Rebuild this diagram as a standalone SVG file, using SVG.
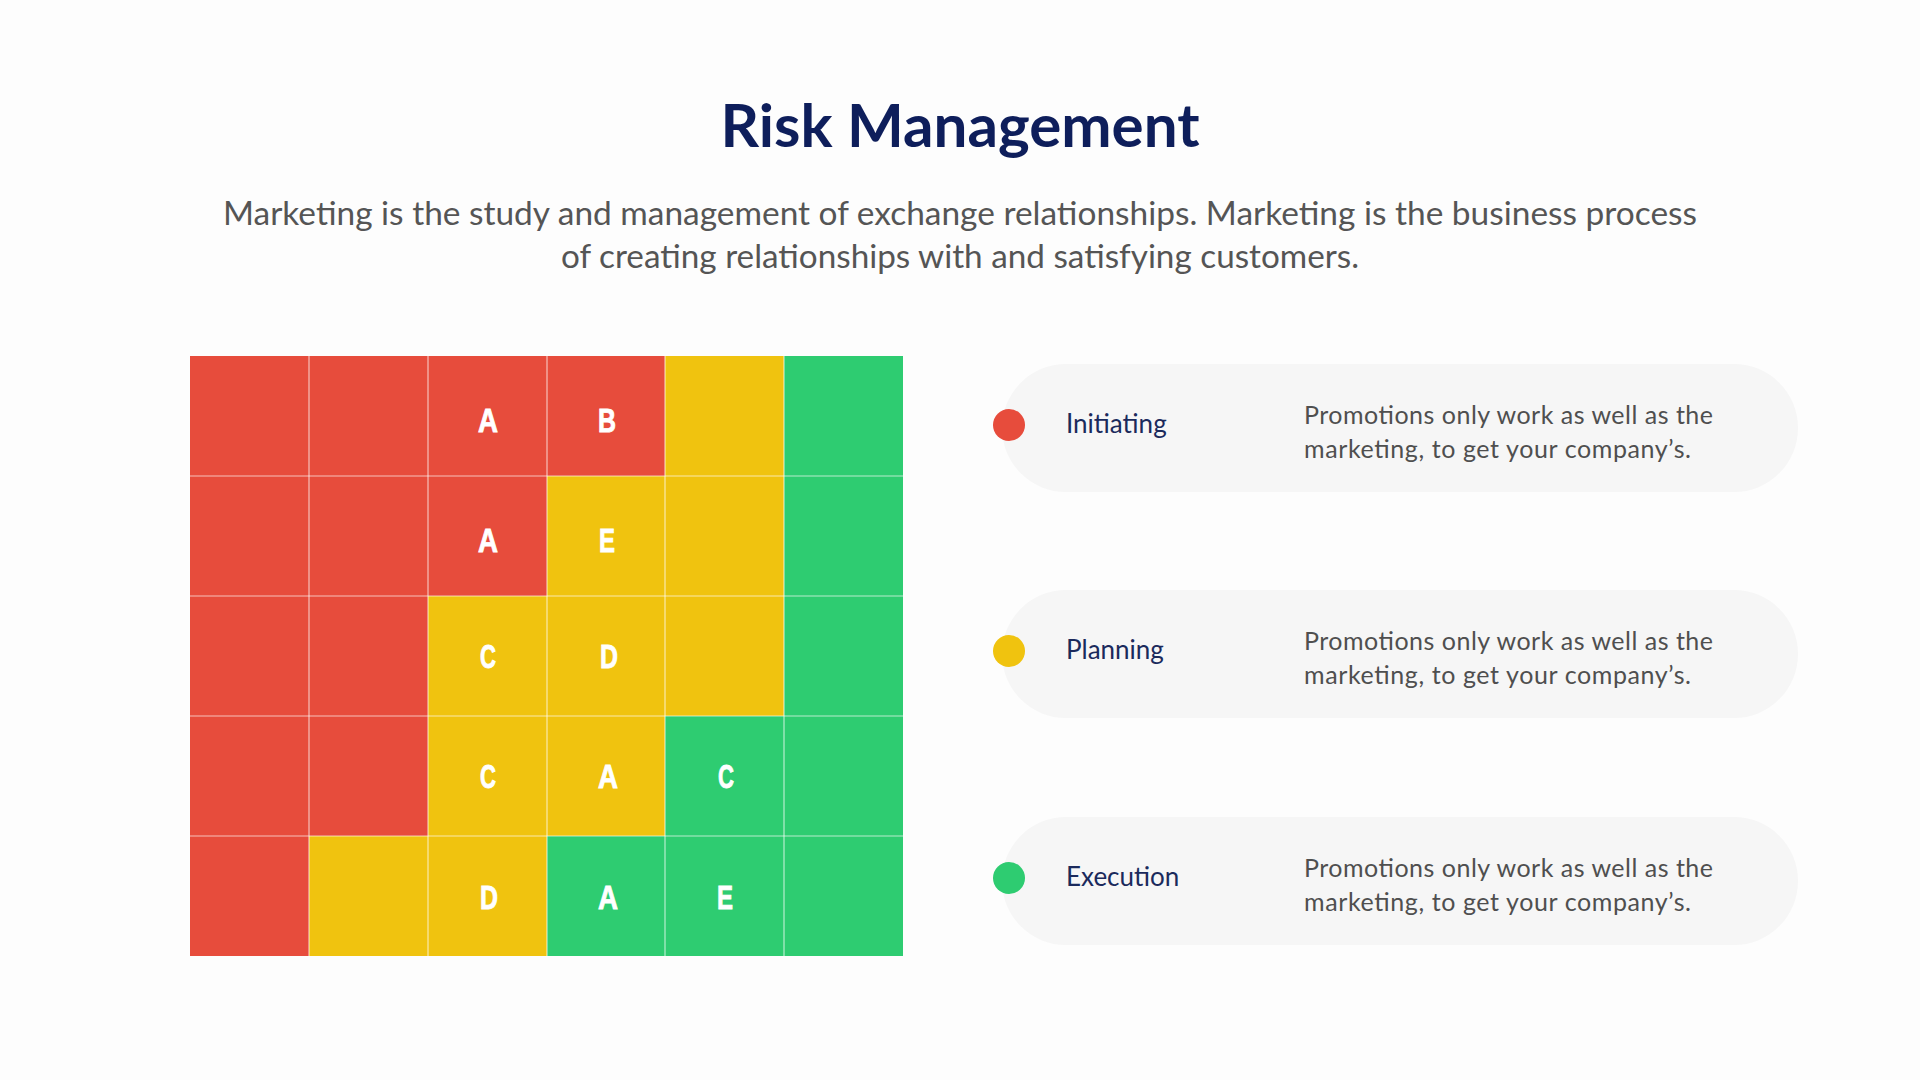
<svg xmlns="http://www.w3.org/2000/svg" width="1920" height="1080" viewBox="0 0 1920 1080">
<style>
.r{fill:#E74C3C}.y{fill:#F0C30F}.g{fill:#2ECC71}
.grid{stroke:#FFFFFF;stroke-opacity:0.65;stroke-width:1.2}
.lt{font-family:"Liberation Sans",Arial,sans-serif;font-weight:bold;font-size:34px;fill:#FFFFFF;stroke:#FFFFFF;stroke-width:0.9;text-anchor:middle}
.card{fill:#F6F6F6}
.lbl{font-family:Lato,"Open Sans",sans-serif;font-size:26px;fill:#1B2A5C}
.desc{font-family:Lato,"Open Sans",sans-serif;font-size:25px;fill:#4F4F4F}
</style>
<rect width="1920" height="1080" fill="#FDFDFD"/>
<g id="title">
<text x="960" y="147" text-anchor="middle" font-family="Lato,'Noto Sans',sans-serif" font-weight="bold" font-size="60" fill="#0E1E5B" textLength="479" lengthAdjust="spacingAndGlyphs">Risk Management</text>
</g>
<g id="subtitle" font-family="Lato,'Open Sans',sans-serif" font-size="32" fill="#555555" text-anchor="middle">
<text x="960" y="225" textLength="1474" lengthAdjust="spacingAndGlyphs">Marketing is the study and management of exchange relationships. Marketing is the business process</text>
<text x="960" y="268" textLength="798" lengthAdjust="spacingAndGlyphs">of creating relationships with and satisfying customers.</text>
</g>
<g id="matrix">
<g id="cells">
<rect class="r" x="190" y="356" width="119" height="120"/><rect class="r" x="309" y="356" width="119" height="120"/><rect class="r" x="428" y="356" width="119" height="120"/><rect class="r" x="547" y="356" width="118" height="120"/><rect class="y" x="665" y="356" width="119" height="120"/><rect class="g" x="784" y="356" width="119" height="120"/>
<rect class="r" x="190" y="476" width="119" height="120"/><rect class="r" x="309" y="476" width="119" height="120"/><rect class="r" x="428" y="476" width="119" height="120"/><rect class="y" x="547" y="476" width="118" height="120"/><rect class="y" x="665" y="476" width="119" height="120"/><rect class="g" x="784" y="476" width="119" height="120"/>
<rect class="r" x="190" y="596" width="119" height="120"/><rect class="r" x="309" y="596" width="119" height="120"/><rect class="y" x="428" y="596" width="119" height="120"/><rect class="y" x="547" y="596" width="118" height="120"/><rect class="y" x="665" y="596" width="119" height="120"/><rect class="g" x="784" y="596" width="119" height="120"/>
<rect class="r" x="190" y="716" width="119" height="120"/><rect class="r" x="309" y="716" width="119" height="120"/><rect class="y" x="428" y="716" width="119" height="120"/><rect class="y" x="547" y="716" width="118" height="120"/><rect class="g" x="665" y="716" width="119" height="120"/><rect class="g" x="784" y="716" width="119" height="120"/>
<rect class="r" x="190" y="836" width="119" height="120"/><rect class="y" x="309" y="836" width="119" height="120"/><rect class="y" x="428" y="836" width="119" height="120"/><rect class="g" x="547" y="836" width="118" height="120"/><rect class="g" x="665" y="836" width="119" height="120"/><rect class="g" x="784" y="836" width="119" height="120"/>
</g>
<g id="gridlines" class="grid">
<line x1="309" y1="356" x2="309" y2="956"/><line x1="428" y1="356" x2="428" y2="956"/><line x1="547" y1="356" x2="547" y2="956"/><line x1="665" y1="356" x2="665" y2="956"/><line x1="784" y1="356" x2="784" y2="956"/>
<line x1="190" y1="476" x2="903" y2="476"/><line x1="190" y1="596" x2="903" y2="596"/><line x1="190" y1="716" x2="903" y2="716"/><line x1="190" y1="836" x2="903" y2="836"/>
</g>
<g id="letters" class="lt">
<text x="488" y="432" textLength="20" lengthAdjust="spacingAndGlyphs">A</text><text x="607" y="432" textLength="18" lengthAdjust="spacingAndGlyphs">B</text>
<text x="488" y="552" textLength="20" lengthAdjust="spacingAndGlyphs">A</text><text x="607" y="552" textLength="16" lengthAdjust="spacingAndGlyphs">E</text>
<text x="488" y="668" textLength="16" lengthAdjust="spacingAndGlyphs">C</text><text x="609" y="668" textLength="18" lengthAdjust="spacingAndGlyphs">D</text>
<text x="488" y="788" textLength="16" lengthAdjust="spacingAndGlyphs">C</text><text x="608" y="788" textLength="20" lengthAdjust="spacingAndGlyphs">A</text><text x="726" y="788" textLength="16" lengthAdjust="spacingAndGlyphs">C</text>
<text x="489" y="909" textLength="18" lengthAdjust="spacingAndGlyphs">D</text><text x="608" y="909" textLength="20" lengthAdjust="spacingAndGlyphs">A</text><text x="725" y="909" textLength="16" lengthAdjust="spacingAndGlyphs">E</text>
</g>
</g>
<g id="legend-initiating">
<rect class="card" x="1002" y="364" width="796" height="128" rx="64"/>
<circle cx="1009" cy="425" r="16" fill="#E74C3C"/>
<text class="lbl" x="1066" y="433">Initiating</text>
<text class="desc" x="1304" y="424" textLength="409">Promotions only work as well as the</text>
<text class="desc" x="1304" y="458" textLength="387">marketing, to get your company’s.</text>
</g>
<g id="legend-planning">
<rect class="card" x="1002" y="590" width="796" height="128" rx="64"/>
<circle cx="1009" cy="651" r="16" fill="#F0C30F"/>
<text class="lbl" x="1066" y="659">Planning</text>
<text class="desc" x="1304" y="650" textLength="409">Promotions only work as well as the</text>
<text class="desc" x="1304" y="684" textLength="387">marketing, to get your company’s.</text>
</g>
<g id="legend-execution">
<rect class="card" x="1002" y="817" width="796" height="128" rx="64"/>
<circle cx="1009" cy="878" r="16" fill="#2ECC71"/>
<text class="lbl" x="1066" y="886">Execution</text>
<text class="desc" x="1304" y="877" textLength="409">Promotions only work as well as the</text>
<text class="desc" x="1304" y="911" textLength="387">marketing, to get your company’s.</text>
</g>
<g id="connectors"/>
</svg>
